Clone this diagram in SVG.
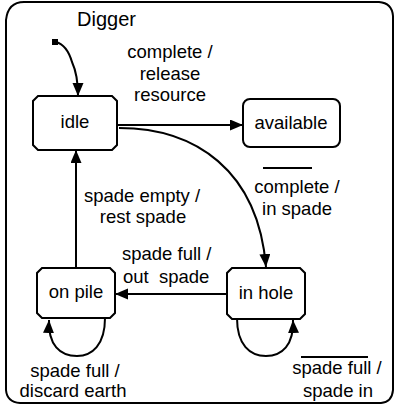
<svg xmlns="http://www.w3.org/2000/svg" width="394" height="407" viewBox="0 0 394 407">
<style>
text{font-family:"Liberation Sans",Arial,sans-serif;font-size:18.5px;fill:#000}
.title{font-size:20px}
.node{fill:#fff;stroke:#000;stroke-width:2}
.edge{fill:none;stroke:#000;stroke-width:2}
.bar{stroke:#000;stroke-width:2}
</style>
<defs>
<marker id="arr" markerUnits="userSpaceOnUse" markerWidth="14" markerHeight="12" refX="13" refY="5.5" orient="auto">
<path d="M0,0 L13,5.5 L0,11 Z" fill="#000"/>
</marker>
</defs>
<rect width="394" height="407" fill="#fff"/>
<path id="frame" d="M6,20 Q8,2 24,2 H379 Q392,3 393,16 V390 Q392,402 381,403 H20 Q7,402 6,390 Z" fill="none" stroke="#000" stroke-width="2"/>
<text class="title" x="77" y="26">Digger</text>
<g id="connectors">
<rect x="52" y="39" width="6" height="6" fill="#000"/>
<path class="edge" d="M56,42 Q67,45 72,62 Q78,75 78,96" marker-end="url(#arr)"/>
<path class="edge" d="M117,125 H243" marker-end="url(#arr)"/>
<path class="edge" d="M119,128 C195,128 258,170 266,267" marker-end="url(#arr)"/>
<path class="edge" d="M227,294 H115" marker-end="url(#arr)"/>
<path class="edge" d="M76,268 V150" marker-end="url(#arr)"/>
<path class="edge" d="M105,318 C105,345 92,356 77,356 C60,356 48,345 49,320" marker-end="url(#arr)"/>
<path class="edge" d="M237,318 C237,345 250,356 266,356 C282,356 294,345 293,320" marker-end="url(#arr)"/>
<text x="170" y="58" text-anchor="middle">complete /</text>
<text x="170" y="80" text-anchor="middle">release</text>
<text x="170" y="101" text-anchor="middle">resource</text>
<line class="bar" x1="263" y1="168" x2="312" y2="168"/>
<text x="297" y="193" text-anchor="middle">complete /</text>
<text x="297" y="215" text-anchor="middle">in spade</text>
<text x="142" y="202" text-anchor="middle">spade empty /</text>
<text x="143" y="223" text-anchor="middle">rest spade</text>
<text x="122" y="260">spade full /</text>
<text x="123" y="283" xml:space="preserve">out  spade</text>
<text x="75" y="377" text-anchor="middle">spade full /</text>
<text x="73" y="397" text-anchor="middle">discard earth</text>
<line class="bar" x1="301" y1="357" x2="368" y2="357"/>
<text x="337" y="374" text-anchor="middle">spade full /</text>
<text x="338" y="397" text-anchor="middle">spade in</text>
</g>
<g id="idle">
<path class="node" d="M38,96 H112 L117,101 V145 L112,150 H38 L33,145 V101 Z"/>
<text x="75" y="128" text-anchor="middle">idle</text>
</g>
<g id="available">
<rect class="node" x="243" y="99" width="97" height="48" rx="7"/>
<text x="291" y="129" text-anchor="middle">available</text>
</g>
<g id="inhole">
<path class="node" d="M232,268 H300 L305,273 V314 L300,319 H232 L227,314 V273 Z"/>
<text x="266" y="299" text-anchor="middle">in hole</text>
</g>
<g id="onpile">
<path class="node" d="M42,268 H110 L115,273 V313 L110,318 H42 L37,313 V273 Z"/>
<text x="76" y="298" text-anchor="middle">on pile</text>
</g>
</svg>
